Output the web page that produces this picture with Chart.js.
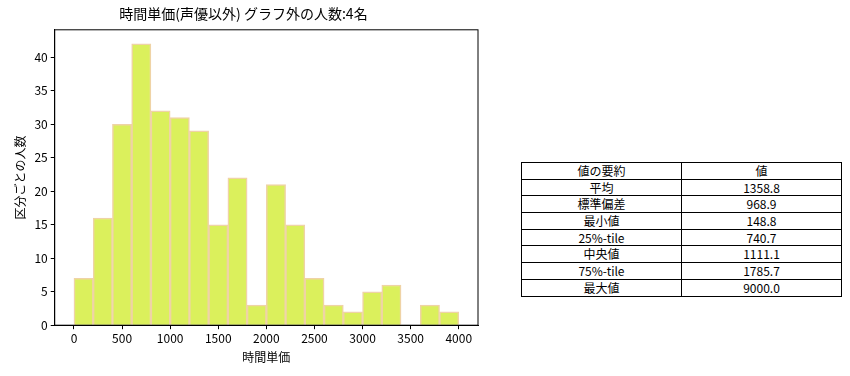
<!DOCTYPE html>
<html>
<head>
<meta charset="utf-8">
<script src="https://cdn.jsdelivr.net/npm/chart.js@4.4.1/dist/chart.umd.min.js"></script>
<style>
  body { margin: 0; background: #fff; width: 850px; height: 376px; position: relative; overflow: hidden; }
  #wrap { position: absolute; left: 0; top: 0; width: 492px; height: 376px; }
  table { position: absolute; left: 521px; top: 162px; width: 321px; border-collapse: collapse; table-layout: fixed;
          font-family: "Noto Sans CJK JP", "Noto Sans", sans-serif; font-size: 12px; }
  td { border: 1px solid #000; height: 15.7px; padding: 0; text-align: center; line-height: 14px; color: #000; width: 50%; }
</style>
</head>
<body>
<div id="wrap"><canvas id="hist"></canvas></div>
<table id="summary"></table>
<script>
// histogram bins (bin start, width 200) and counts
const binStarts = [0, 200, 400, 600, 800, 1000, 1200, 1400, 1600, 1800, 2000, 2200, 2400, 2600, 2800, 3000, 3200, 3400, 3600, 3800];
const counts = [7, 16, 30, 42, 32, 31, 29, 15, 22, 3, 21, 15, 7, 3, 2, 5, 6, 0, 3, 2];
const binWidth = 200;
const xTicks = [0, 500, 1000, 1500, 2000, 2500, 3000, 3500, 4000];
const yTicks = [0, 5, 10, 15, 20, 25, 30, 35, 40];

// summary table
const statLabels = ['平均', '標準偏差', '最小値', '25%-tile', '中央値', '75%-tile', '最大値'];
const statValues = ['1358.8', '968.9', '148.8', '740.7', '1111.1', '1785.7', '9000.0'];

const table = document.getElementById('summary');
const rows = [['値の要約', '値']].concat(statLabels.map((l, i) => [l, statValues[i]]));
rows.forEach(r => {
    const tr = document.createElement('tr');
    r.forEach(c => {
        const td = document.createElement('td');
        td.textContent = c;
        tr.appendChild(td);
    });
    table.appendChild(tr);
});

const font = '"Noto Sans CJK JP", "Noto Sans", sans-serif';

// box around the plot area, like matplotlib spines
const frame = {
    id: 'frame',
    afterDatasetsDraw(chart) {
        const a = chart.chartArea;
        const c = chart.ctx;
        c.save();
        c.strokeStyle = '#000';
        c.lineWidth = 1;
        c.strokeRect(a.left, a.top, a.right - a.left, a.bottom - a.top);
        c.restore();
    }
};

new Chart(document.getElementById('hist'), {
    type: 'bar',
    data: {
        datasets: [{
            data: binStarts.map((b, i) => ({ x: b + binWidth / 2, y: counts[i] })),
            backgroundColor: '#dbf05c',
            borderColor: '#efd3a6',
            borderWidth: 1.5,
            barPercentage: 1,
            categoryPercentage: 1,
        }]
    },
    options: {
        responsive: true,
        maintainAspectRatio: false,
        animation: false,
        layout: { padding: { left: 9, right: 14, top: 2, bottom: 7 } },
        plugins: {
            legend: { display: false },
            tooltip: { enabled: false },
            title: {
                display: true,
                text: '時間単価(声優以外) グラフ外の人数:4名',
                color: '#000',
                font: { family: font, size: 14, weight: 'normal' },
                padding: { top: 3, bottom: 8 }
            }
        },
        scales: {
            x: {
                type: 'linear',
                offset: false,
                min: -200,
                max: 4200,
                afterBuildTicks: s => { s.ticks = xTicks.map(v => ({ value: v })); },
                ticks: { color: '#000', font: { family: font, size: 12 }, maxRotation: 0, autoSkip: false, padding: 2,
                         callback: v => String(v) },
                grid: { display: true, offset: false, drawOnChartArea: false, color: '#000', tickLength: 4 },
                border: { display: true, color: '#000' },
                title: { display: true, text: '時間単価', color: '#000', font: { family: font, size: 12 }, padding: { top: 3 } }
            },
            y: {
                min: 0,
                max: 44.1,
                afterBuildTicks: s => { s.ticks = yTicks.map(v => ({ value: v })); },
                ticks: { color: '#000', font: { family: font, size: 12 }, padding: 3, callback: v => String(v) },
                grid: { display: true, drawOnChartArea: false, color: '#000', tickLength: 4 },
                border: { display: true, color: '#000' },
                title: { display: true, text: '区分ごとの人数', color: '#000', font: { family: font, size: 12 }, padding: { bottom: 4 } }
            }
        }
    },
    plugins: [frame]
});
</script>
</body>
</html>
